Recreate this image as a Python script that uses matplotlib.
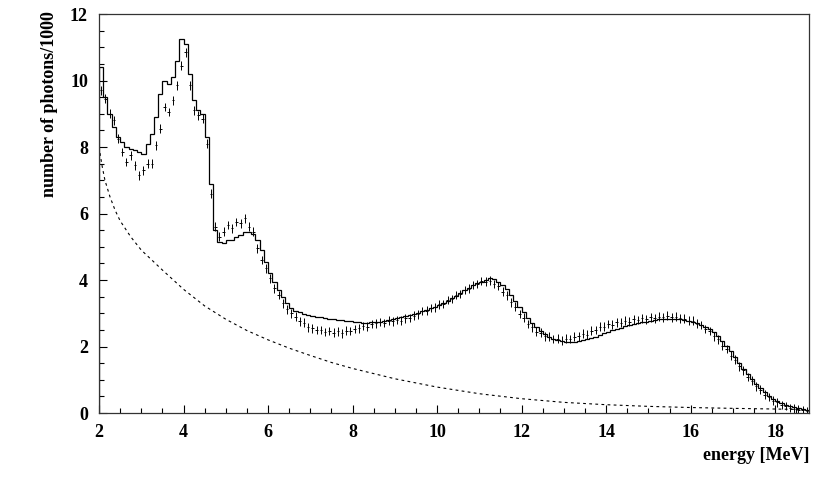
import numpy as np
import matplotlib
matplotlib.use("Agg")
import matplotlib.pyplot as plt
from matplotlib.ticker import MultipleLocator

# ---- data ----
bin_start = 2.0
bin_width = 0.1

sim_counts = [
    10.4, 9.5, 9.0, 8.6, 8.3, 8.15, 8.0, 7.95, 7.9, 7.85,
    7.8, 8.1, 8.4, 8.9, 9.6, 10.0, 9.9, 10.1, 10.6, 11.25,
    11.1, 10.2, 9.4, 9.1, 9.0, 8.3, 6.9, 5.5, 5.15, 5.1,
    5.2, 5.2, 5.3, 5.35, 5.43, 5.45, 5.37, 5.2, 4.9, 4.55,
    4.2, 3.95, 3.7, 3.5, 3.3, 3.15, 3.08, 3.03, 2.98, 2.95,
    2.92, 2.9, 2.88, 2.86, 2.84, 2.82, 2.8, 2.79, 2.77, 2.76,
    2.75, 2.74, 2.72, 2.72, 2.73, 2.74, 2.75, 2.77, 2.79, 2.82,
    2.85, 2.88, 2.91, 2.95, 2.98, 3.02, 3.06, 3.1, 3.15, 3.2,
    3.25, 3.31, 3.38, 3.45, 3.53, 3.61, 3.69, 3.77, 3.84, 3.9,
    3.95, 4.0, 4.05, 4.03, 3.95, 3.86, 3.72, 3.55, 3.38, 3.2,
    3.03, 2.87, 2.72, 2.58, 2.46, 2.37, 2.3, 2.24, 2.19, 2.16,
    2.14, 2.14, 2.15, 2.17, 2.19, 2.22, 2.26, 2.3, 2.35, 2.4,
    2.45, 2.49, 2.53, 2.57, 2.61, 2.64, 2.67, 2.7, 2.73, 2.75,
    2.78, 2.8, 2.82, 2.83, 2.84, 2.84, 2.83, 2.82, 2.8, 2.78,
    2.74, 2.7, 2.65, 2.6, 2.52, 2.43, 2.31, 2.17, 2.01, 1.85,
    1.68, 1.5, 1.33, 1.17, 1.01, 0.87, 0.74, 0.62, 0.52, 0.43,
    0.35, 0.29, 0.24, 0.2, 0.17, 0.14, 0.11, 0.08,
]

meas_counts = [
    9.7, 9.45, 9.0, 8.8, 8.25, 7.85, 7.55, 7.75, 7.45, 7.15,
    7.3, 7.5, 7.5, 8.05, 8.55, 9.2, 9.05, 9.4, 9.85, 10.45,
    10.85, 9.85, 9.1, 8.95, 8.85, 8.1, 6.6, 5.6, 5.3, 5.45,
    5.65, 5.55, 5.75, 5.7, 5.85, 5.6, 5.45, 4.95, 4.6, 4.35,
    4.05, 3.75, 3.55, 3.3, 3.12, 3.0, 2.9, 2.76, 2.72, 2.58,
    2.55, 2.5, 2.5, 2.44, 2.47, 2.42, 2.46, 2.4, 2.48, 2.47,
    2.53, 2.55, 2.62, 2.6, 2.68, 2.7, 2.74, 2.71, 2.78, 2.76,
    2.8, 2.78, 2.85, 2.86, 2.93, 2.97, 3.07, 3.08, 3.16, 3.18,
    3.27, 3.28, 3.4, 3.43, 3.55, 3.58, 3.7, 3.74, 3.85, 3.88,
    3.97, 3.95, 3.98, 3.88, 3.82, 3.65, 3.54, 3.33, 3.2, 2.98,
    2.87, 2.68, 2.58, 2.45, 2.42, 2.31, 2.3, 2.23, 2.24, 2.18,
    2.24, 2.23, 2.3, 2.31, 2.39, 2.36, 2.48, 2.5, 2.6, 2.6,
    2.68, 2.66, 2.73, 2.72, 2.78, 2.75, 2.82, 2.8, 2.85, 2.82,
    2.88, 2.85, 2.9, 2.88, 2.93, 2.88, 2.9, 2.85, 2.84, 2.78,
    2.78, 2.69, 2.65, 2.53, 2.47, 2.31, 2.22, 2.03, 1.92, 1.72,
    1.6, 1.4, 1.28, 1.08, 0.97, 0.8, 0.7, 0.55, 0.48, 0.37,
    0.32, 0.24, 0.21, 0.15, 0.13, 0.1, 0.08, 0.05,
]
meas_err = 0.13

bkg_energy = [2.0, 2.07, 2.14, 2.26, 2.38, 2.5, 2.75, 3.0, 3.5, 4.0, 4.5,
              5.0, 5.5, 6.0, 6.5, 7.0, 7.5, 8.0, 9.0, 10.0, 11.0, 12.0,
              13.0, 14.0, 15.0, 16.0, 17.0, 18.0, 18.8]
bkg_counts = [8.0, 7.45, 7.0, 6.5, 6.1, 5.78, 5.3, 4.9, 4.3, 3.72, 3.22,
              2.82, 2.48, 2.2, 1.95, 1.73, 1.52, 1.34, 1.03, 0.78, 0.58, 0.43,
              0.32, 0.25, 0.2, 0.165, 0.14, 0.12, 0.1]

x_ticks = [2, 4, 6, 8, 10, 12, 14, 16, 18]
y_ticks = [0, 2, 4, 6, 8, 10, 12]

# ---- plot ----
plt.rcParams['font.family'] = ['Liberation Serif', 'DejaVu Serif']
fig = plt.figure(figsize=(8.3, 4.83), dpi=100)
ax = fig.add_axes([0.1193, 0.1449, 0.8554, 0.8261])

n = len(sim_counts)
edges = bin_start + bin_width * np.arange(n + 1)
centers = edges[:-1] + bin_width / 2

ax.stairs(sim_counts, edges, color='black', linewidth=0.9)
ax.errorbar(centers, meas_counts, yerr=meas_err, xerr=0.03, fmt='none',
            ecolor='black', elinewidth=0.7)
ax.plot(bkg_energy, bkg_counts, color='black', linewidth=0.8,
        linestyle=(0, (2.5, 3)))

ax.set_xlim(2, 18.8)
ax.set_ylim(0, 12)
ax.set_xticks(x_ticks)
ax.set_yticks(y_ticks)
ax.xaxis.set_minor_locator(MultipleLocator(0.5))
ax.yaxis.set_minor_locator(MultipleLocator(0.5))
ax.tick_params(which='both', direction='in', top=False, right=False,
               labelsize=13, width=0.8)
ax.tick_params(axis='x', which='major', length=6, pad=8)
ax.tick_params(axis='y', which='major', length=6, pad=8)
ax.tick_params(which='minor', length=3.5)
for lbl in ax.get_xticklabels() + ax.get_yticklabels():
    lbl.set_fontweight('bold')
for s in ax.spines.values():
    s.set_linewidth(0.9)
    s.set_color('#333333')

fig.text(0.975, 0.04, 'energy [MeV]', ha='right', va='bottom',
         fontsize=13, fontweight='bold')
fig.text(0.06, 0.976, 'number of photons/1000', ha='center', va='top',
         rotation=90, fontsize=13, fontweight='bold')

fig.savefig('out.png', dpi=100)
